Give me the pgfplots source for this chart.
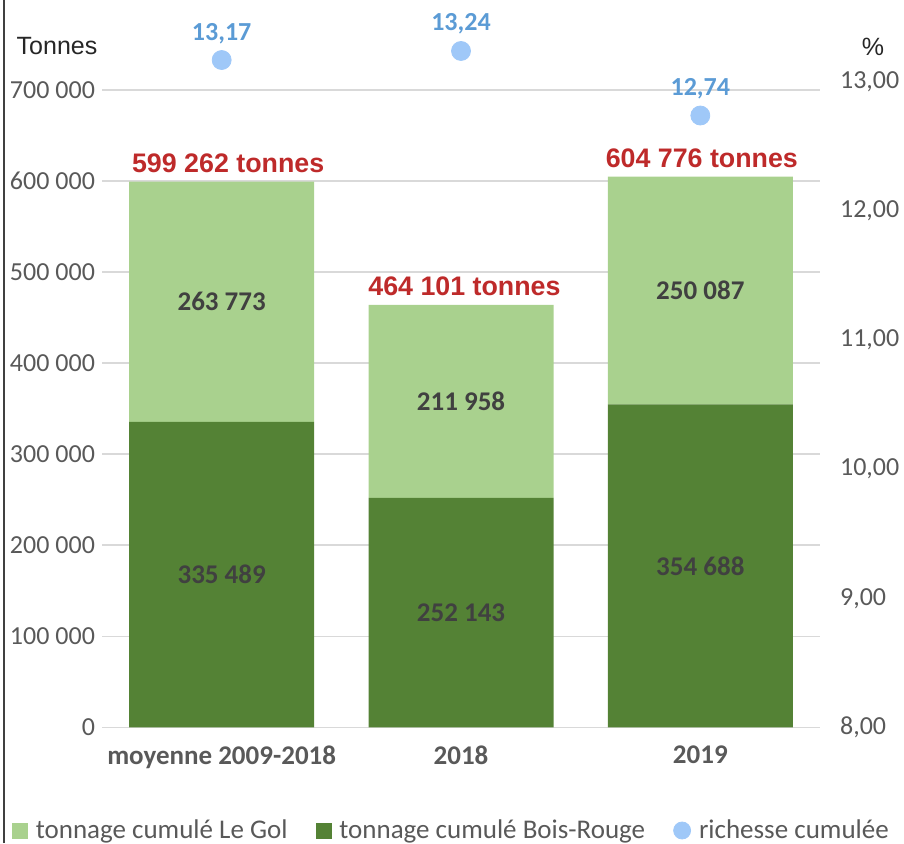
\documentclass[border=0pt]{standalone}
\usepackage{pgfplots}
\usepackage{pgfplotstable}
\pgfplotsset{compat=1.18}
\usepackage{fontspec}
\setmainfont{Carlito}
\newfontfamily\arial{Liberation Sans}
\definecolor{lgreen}{HTML}{A9D18E}
\definecolor{dgreen}{HTML}{548235}
\definecolor{redlab}{HTML}{BE2A2A}
\definecolor{bluelab}{HTML}{5B9BD5}
\definecolor{bluedot}{HTML}{9FC8F8}
\definecolor{tickgray}{HTML}{595959}
\definecolor{labgray}{HTML}{404040}
\definecolor{gridgray}{HTML}{D9D9D9}

\pgfplotstableread{
x br lg brlab lglab
0 335489 263773 {335 489} {263 773}
1 252143 211958 {252 143} {211 958}
2 354688 250087 {354 688} {250 087}
}\tonnage
\pgfplotstableread{
x tot dx lab
0 599262 3.25 {599 262 tonnes}
1 464101 1.75 {464 101 tonnes}
2 604776 0.75 {604 776 tonnes}
}\totaux
\pgfplotstableread{
x r lab
0 13.17 {13,17}
1 13.24 {13,24}
2 12.74 {12,74}
}\richesse

\begin{document}
\begin{tikzpicture}
\path[use as bounding box] (0pt,0pt) rectangle (452pt,421.5pt);
\begin{axis}[
  at={(51pt,57.85pt)}, anchor=south west,
  scale only axis, width=359pt, height=364.17pt,
  xmin=-0.5, xmax=2.5, ymin=0, ymax=800000,
  clip=false,
  axis line style={draw=none},
  major tick length=0pt,
  ybar stacked, bar width=92.5pt,
  xtick={0,1,2},
  xticklabels={moyenne 2009-2018,2018,2019},
  xticklabel style={font=\bfseries\fontsize{13.5}{15}\selectfont, text=tickgray, yshift=-5.5pt},
  ytick={0,100000,200000,300000,400000,500000,600000,700000},
  yticklabels={0,100 000,200 000,300 000,400 000,500 000,600 000,700 000},
  yticklabel style={font=\fontsize{13}{15}\selectfont, text=tickgray, xshift=0pt},
  ymajorgrids, grid style={gridgray, line width=0.75pt},
  legend columns=3,
  legend style={draw=none, fill=none, inner sep=0pt, outer sep=0pt,
    font=\fontsize{13.5}{15}\selectfont, text=tickgray,
    at={(axis description cs:-0.12535,-0.1417)}, anchor=west,
    /tikz/every odd column/.append style={column sep=2pt},
    /tikz/every even column/.append style={column sep=12pt}},
]
\addplot[fill=dgreen, draw=none, forget plot,
  point meta=explicit symbolic,
  nodes near coords,
  nodes near coords style={anchor=center, font=\bfseries\fontsize{13.5}{15}\selectfont, text=labgray}]
  table[x=x, y=br, meta=brlab] {\tonnage};
\addplot[fill=lgreen, draw=none, forget plot,
  point meta=explicit symbolic,
  nodes near coords,
  nodes near coords style={anchor=center, font=\bfseries\fontsize{13.5}{15}\selectfont, text=labgray}]
  table[x=x, y=lg, meta=lglab] {\tonnage};
\addlegendimage{legend image code/.code={\fill[lgreen] (0pt,-3.75pt) rectangle (7.5pt,3.75pt);}}
\addlegendentry{tonnage cumulé Le Gol}
\addlegendimage{legend image code/.code={\fill[dgreen] (0pt,-3.75pt) rectangle (7.5pt,3.75pt);}}
\addlegendentry{tonnage cumulé Bois-Rouge}
\addlegendimage{legend image code/.code={\fill[bluedot] (4.25pt,0pt) circle (4.25pt);}}
\addlegendentry{richesse cumulée}
\end{axis}
\begin{axis}[
  at={(51pt,57.85pt)}, anchor=south west,
  scale only axis, width=359pt, height=364.17pt,
  xmin=-0.5, xmax=2.5, ymin=0, ymax=800000,
  clip=false, hide axis,
]
\addplot[only marks, mark=none, draw=none,
  point meta=explicit symbolic,
  visualization depends on={\thisrow{dx} \as \dx},
  nodes near coords,
  nodes near coords style={anchor=base, inner sep=0pt, yshift=4.5pt, xshift=\dx pt, font=\arial\bfseries\fontsize{13.4}{15}\selectfont, text=redlab}]
  table[x=x, y=tot, meta=lab] {\totaux};
\end{axis}
\begin{axis}[
  at={(51pt,57.85pt)}, anchor=south west,
  scale only axis, width=359pt, height=364.17pt,
  xmin=-0.5, xmax=2.5, ymin=8, ymax=13.643,
  clip=false,
  axis x line=none,
  axis y line*=right,
  axis line style={draw=none},
  major tick length=0pt,
  ytick={8,9,10,11,12,13},
  yticklabels={{8,00},{9,00},{10,00},{11,00},{12,00},{13,00}},
  yticklabel style={font=\fontsize{13}{15}\selectfont, text=tickgray, xshift=6.5pt},
]
\addplot[only marks, color=bluedot, mark=*, mark size=4.75pt, mark options={fill=bluedot, draw=bluedot},
  point meta=explicit symbolic,
  nodes near coords,
  nodes near coords style={anchor=base, inner sep=0pt, yshift=10pt, font=\bfseries\fontsize{13}{15}\selectfont, text=bluelab}]
  table[x=x, y=r, meta=lab] {\richesse};
\end{axis}
\node[font=\arial\fontsize{12.5}{14}\selectfont, text=black!85] at (28.5pt,398.5pt) {Tonnes};
\node[font=\arial\fontsize{12.5}{14}\selectfont, text=black!85] at (436.5pt,398.2pt) {\%};
\draw[line width=1pt, black!75] (1.75pt,0pt) -- (1.75pt,421.5pt);
\end{tikzpicture}
\end{document}
